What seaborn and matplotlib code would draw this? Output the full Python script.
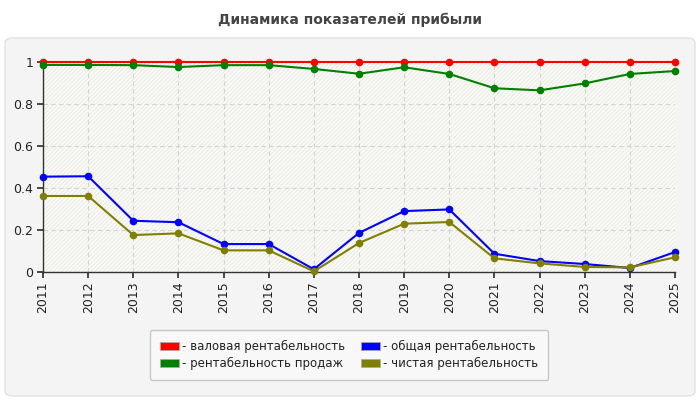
import numpy as np
import pandas as pd
import matplotlib
matplotlib.use("Agg")
import matplotlib.pyplot as plt
import seaborn as sns
from matplotlib.patches import FancyBboxPatch, Rectangle, Patch

years = list(range(2011, 2026))
gross = [1.0] * 15
sales = [0.986, 0.986, 0.985, 0.976, 0.985, 0.985, 0.967, 0.944, 0.975, 0.943, 0.875, 0.865, 0.898, 0.943, 0.957]
total = [0.454, 0.456, 0.244, 0.237, 0.133, 0.133, 0.013, 0.186, 0.290, 0.298, 0.087, 0.052, 0.038, 0.019, 0.095]
net = [0.362, 0.362, 0.176, 0.184, 0.103, 0.103, 0.003, 0.138, 0.230, 0.238, 0.065, 0.041, 0.024, 0.022, 0.070]
series_names = ["- валовая рентабельность", "- рентабельность продаж",
                "- общая рентабельность", "- чистая рентабельность"]
colors = ["#ff0000", "#008000", "#0000ff", "#808000"]
y_ticks = [0, 0.2, 0.4, 0.6, 0.8, 1]
y_labels = ["0", "0.2", "0.4", "0.6", "0.8", "1"]
title = "Динамика показателей прибыли"

sns.set_theme(style="white")
plt.rcParams['font.family'] = ['DejaVu Sans']

df = pd.DataFrame({
    "year": years * 4,
    "value": gross + sales + total + net,
    "series": sum([[n] * 15 for n in series_names], []),
})

fig = plt.figure(figsize=(7, 4), dpi=100)
fig.patch.set_facecolor("white")
panel = FancyBboxPatch((5 / 700, 4 / 400), 690 / 700, 358 / 400,
                       boxstyle="round,pad=0,rounding_size=0.012",
                       transform=fig.transFigure, facecolor="#f4f4f4",
                       edgecolor="#e2e2e2", linewidth=1, zorder=-10)
fig.patches.append(panel)

ax = fig.add_axes([43 / 700, 1 - 272 / 400, (675 - 43) / 700, (272 - 62) / 400])
ax.set_zorder(1)
ax.set_facecolor("#fdfdf6")
ax.add_patch(Rectangle((0, 0), 1, 1, transform=ax.transAxes, facecolor="none",
                       edgecolor="#ececec", hatch="////////", linewidth=0, zorder=0))

sns.lineplot(data=df, x="year", y="value", hue="series", palette=colors,
             marker="o", markersize=5.5, markeredgewidth=0, linewidth=1.5,
             ax=ax, legend=False, zorder=3)
for ln in ax.lines:
    ln.set_clip_on(False)

ax.set_xlim(2011, 2025)
ax.set_ylim(0, 1)
ax.set_xticks(years)
ax.set_xticklabels([str(y) for y in years], rotation=90, fontsize=9, color="#222222")
ax.set_yticks(y_ticks)
ax.set_yticklabels(y_labels, fontsize=9, color="#222222")
ax.set_xlabel("")
ax.set_ylabel("")
ax.grid(True, color="#d4d4d4", linestyle=(0, (4, 3)), linewidth=0.8)
ax.set_axisbelow(True)
ax.tick_params(axis="both", length=4, color="#333333", direction="out", pad=3, bottom=True, left=True)
for s in ["top", "right"]:
    ax.spines[s].set_visible(False)
for s in ["left", "bottom"]:
    ax.spines[s].set_color("#333333")
    ax.spines[s].set_linewidth(1)

fig.text(0.5, 1 - 20 / 400, title, ha="center", va="center", fontsize=10,
         fontweight="bold", color="#444444")

handles = [Patch(facecolor=c, edgecolor="#aaaaaa", linewidth=0.5) for c in colors]
leg = fig.legend(handles, series_names, loc="center", ncol=2,
                 bbox_to_anchor=(349 / 700, 1 - 355 / 400), fontsize=8.5,
                 frameon=True, handlelength=1.6, handleheight=0.7,
                 handletextpad=0.2, columnspacing=1.4, labelspacing=0.3,
                 borderpad=0.9, fancybox=True)
leg.get_frame().set_facecolor("#fafafa")
leg.get_frame().set_edgecolor("#bbbbbb")
for t in leg.get_texts():
    t.set_color("#222222")

fig.savefig("out.png", dpi=100, facecolor="white")
